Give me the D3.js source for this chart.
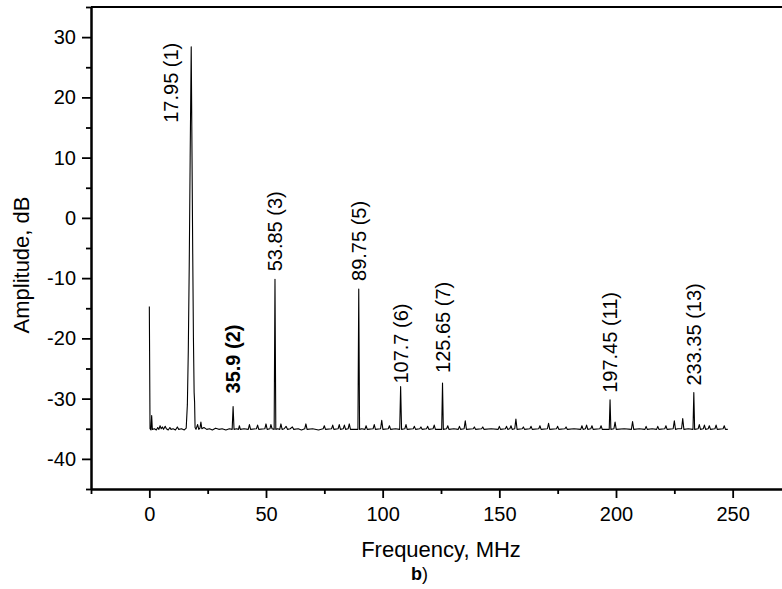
<!DOCTYPE html>
<html>
<head>
<meta charset="utf-8">
<script src="https://cdn.jsdelivr.net/npm/d3@7"></script>
<style>
  html, body { margin: 0; padding: 0; background: #fff; }
  svg { display: block; }
  text { font-family: "Liberation Sans", Arial, sans-serif; fill: #000; }
</style>
</head>
<body>
<svg id="chart" width="782" height="589"></svg>
<script>
// Labelled harmonics of the spectrum: frequency (MHz), harmonic order, level (dB)
const harmonicFreqs  = [17.95, 35.9, 53.85, 89.75, 107.7, 125.65, 197.45, 233.35];
const harmonicOrders = [1, 2, 3, 5, 6, 7, 11, 13];
const harmonicLevels = [28.4, -31.3, -10.2, -11.8, -28.0, -27.4, -30.2, -29.0];
const boldHarmonics  = [35.9];

// Rest of the measured trace: DC line, fundamental skirt, noise floor and spurs [MHz, dB]
const floorTrace = [
  [0.0,-14.7],[0.3,-35.0],[0.7,-35.2],[1.0,-32.8],[1.3,-35.1],[2.2,-35.0],[3.0,-35.2],[3.6,-34.8],
  [4.1,-35.1],[4.6,-34.5],[5.1,-35.0],[5.6,-34.7],[6.1,-35.1],[6.8,-34.6],[7.3,-35.0],[8.1,-35.2],
  [8.8,-34.8],[9.3,-35.1],[10.2,-35.0],[11.2,-35.2],[12.0,-34.7],[12.6,-35.1],[13.8,-35.0],[15.0,-35.2],
  [15.8,-34.9],[16.3,-31.0],[16.7,-22.0],[17.1,-8.0],[17.5,10.0],[18.3,10.0],[18.6,-6.0],[18.9,-20.0],
  [19.2,-29.0],[19.4,-30.6],[19.6,-34.8],[20.0,-35.1],[20.7,-34.3],[21.2,-35.1],[21.7,-34.9],[22.1,-33.9],
  [22.5,-35.0],[23.4,-34.8],[24.6,-35.1],[25.8,-35.0],[27.0,-35.2],[28.4,-34.9],[29.8,-35.1],[31.2,-35.0],
  [32.8,-35.2],[34.3,-35.0],[35.5,-35.1],[36.3,-35.1],[37.4,-35.0],[38.2,-35.1],[38.6,-34.5],[39.0,-35.1],
  [40.6,-35.0],[42.4,-35.1],[42.9,-34.3],[43.4,-35.1],[45.9,-35.0],[46.4,-34.4],[46.9,-35.1],[49.5,-35.0],
  [50.0,-34.2],[50.5,-35.1],[51.7,-35.0],[52.1,-34.3],[52.6,-35.0],[53.5,-35.1],[54.2,-35.1],[55.0,-35.0],
  [55.9,-35.1],[56.4,-34.2],[56.9,-35.1],[57.8,-35.0],[58.6,-34.6],[59.2,-35.1],[60.4,-35.0],[61.3,-34.7],
  [61.9,-35.1],[63.8,-35.0],[65.2,-35.2],[66.6,-35.0],[67.1,-34.2],[67.6,-35.1],[70.0,-35.0],[72.5,-35.2],
  [74.5,-35.0],[75.0,-34.5],[75.5,-35.1],[78.1,-35.0],[78.6,-34.4],[79.1,-35.1],[80.9,-35.0],[81.4,-34.3],
  [81.9,-35.1],[83.1,-35.0],[83.6,-34.4],[84.1,-35.1],[85.2,-35.0],[85.7,-34.2],[86.2,-35.1],[89.4,-35.1],
  [90.1,-35.1],[91.0,-35.0],[92.4,-35.1],[92.9,-34.5],[93.4,-35.1],[95.9,-35.0],[96.4,-34.3],[96.9,-35.1],
  [99.1,-35.0],[99.6,-33.6],[100.1,-35.1],[102.4,-35.0],[102.9,-34.5],[103.4,-35.1],[105.5,-35.0],[107.3,-35.1],
  [108.1,-35.1],[109.5,-35.0],[110.0,-34.3],[110.5,-35.1],[113.1,-35.0],[113.6,-34.6],[114.1,-35.1],[115.9,-35.0],
  [116.4,-34.7],[116.9,-35.1],[118.8,-35.0],[119.3,-34.6],[119.8,-35.1],[121.6,-35.0],[122.1,-34.4],[122.6,-35.1],
  [125.3,-35.1],[126.0,-35.1],[127.4,-35.0],[127.9,-34.5],[128.4,-35.1],[130.5,-35.0],[132.4,-35.1],[132.9,-34.6],
  [133.4,-35.1],[134.9,-35.0],[135.4,-33.7],[135.9,-35.1],[138.8,-35.0],[139.3,-34.7],[139.8,-35.1],[142.4,-35.0],
  [142.9,-34.7],[143.4,-35.1],[146.5,-35.0],[149.5,-35.1],[150.0,-34.6],[150.5,-35.1],[152.6,-35.0],[153.1,-34.6],
  [153.6,-35.1],[154.5,-35.0],[155.0,-34.5],[155.5,-35.1],[156.6,-35.0],[157.1,-33.4],[157.6,-35.1],[159.8,-35.0],
  [160.3,-34.7],[160.8,-35.1],[163.1,-35.0],[163.6,-34.6],[164.1,-35.1],[166.9,-35.0],[167.4,-34.5],[167.9,-35.1],
  [170.6,-35.0],[171.1,-34.1],[171.6,-35.1],[174.5,-35.0],[175.0,-34.6],[175.5,-35.1],[178.1,-35.0],[178.6,-34.7],
  [179.1,-35.1],[182.0,-35.0],[184.9,-35.1],[185.4,-34.5],[185.9,-35.1],[186.9,-35.0],[187.4,-34.4],[187.9,-35.1],
  [189.2,-35.0],[189.7,-34.5],[190.2,-35.1],[193.1,-35.0],[193.6,-34.5],[194.1,-35.1],[197.1,-35.1],[197.8,-35.1],
  [199.1,-35.0],[199.6,-33.9],[200.1,-35.1],[203.5,-35.0],[206.6,-35.1],[207.1,-33.8],[207.6,-35.1],[210.0,-35.0],
  [212.4,-35.1],[212.9,-34.6],[213.4,-35.1],[215.5,-35.0],[217.4,-35.1],[217.9,-34.6],[218.4,-35.1],[220.9,-35.0],
  [221.4,-34.5],[221.9,-35.1],[224.5,-35.0],[225.0,-33.7],[225.5,-35.1],[226.5,-35.0],[228.1,-35.0],[228.6,-33.3],
  [229.1,-35.1],[231.0,-35.0],[233.0,-35.1],[233.7,-35.1],[235.2,-35.0],[235.7,-34.3],[236.2,-35.1],[237.4,-35.0],
  [237.9,-34.4],[238.4,-35.1],[239.5,-35.0],[240.0,-34.5],[240.5,-35.1],[242.4,-35.0],[242.9,-34.4],[243.4,-35.1],
  [245.9,-35.0],[246.4,-34.5],[246.9,-35.1],[247.9,-35.1]
];

// Axis ticks
const xMajorTicks = [0, 50, 100, 150, 200, 250];
const xMinorTicks = [-25, 25, 75, 125, 175, 225, 275];
const yMajorTicks = [-40, -30, -20, -10, 0, 10, 20, 30];
const yMinorTicks = [-45, -35, -25, -15, -5, 5, 15, 25, 35];

// Label placement around each harmonic peak: [dx, dy] in px from the peak top
const labelShift = [[-20, 76], [0, -13], [0, -8], [0, -8], [0, -3], [0, -10], [0, -7], [0, -7]];

const svg = d3.select("#chart");
const W = +svg.attr("width"), H = +svg.attr("height");

svg.append("rect").attr("width", W).attr("height", H).attr("fill", "#fff");

const x = d3.scaleLinear().domain([-25, 275]).range([91, 791]);
const y = d3.scaleLinear().domain([-45, 35]).range([489, 7]);

// Spectrum trace: noise floor merged with the labelled harmonic peaks
const harmonicPoints = harmonicFreqs.map((f, i) => [f, harmonicLevels[i]]);
const trace = floorTrace.concat(harmonicPoints).sort((a, b) => a[0] - b[0]);

const line = d3.line().x(d => x(d[0])).y(d => y(d[1]));
svg.append("path")
  .datum(trace)
  .attr("d", line)
  .attr("fill", "none")
  .attr("stroke", "#000")
  .attr("stroke-width", 1.1)
  .attr("stroke-linejoin", "round");

// Axes
const fmt = d => String(d);
function styleAxis(g) {
  g.select(".domain").attr("stroke", "#000").attr("stroke-width", 2);
  g.selectAll(".tick line").attr("stroke", "#000").attr("stroke-width", 1.8);
  g.selectAll(".tick text").style("font-size", "20px").attr("fill", "#000")
    .style("font-family", '"Liberation Sans", Arial, sans-serif');
}

const gx = svg.append("g").attr("transform", `translate(0,${y(-45)})`)
  .call(d3.axisBottom(x).tickValues(xMajorTicks).tickFormat(fmt).tickSize(9).tickPadding(9).tickSizeOuter(0));
styleAxis(gx);
const gxm = svg.append("g").attr("transform", `translate(0,${y(-45)})`)
  .call(d3.axisBottom(x).tickValues(xMinorTicks).tickFormat("").tickSize(5).tickSizeOuter(0));
styleAxis(gxm);

const gy = svg.append("g").attr("transform", `translate(${x(-25)},0)`)
  .call(d3.axisLeft(y).tickValues(yMajorTicks).tickFormat(fmt).tickSize(9).tickPadding(6).tickSizeOuter(0));
styleAxis(gy);
const gym = svg.append("g").attr("transform", `translate(${x(-25)},0)`)
  .call(d3.axisLeft(y).tickValues(yMinorTicks).tickFormat("").tickSize(5).tickSizeOuter(0));
styleAxis(gym);

// Top frame line
svg.append("line")
  .attr("x1", x(-25)).attr("x2", x(275))
  .attr("y1", y(35)).attr("y2", y(35))
  .attr("stroke", "#000").attr("stroke-width", 2);

// Harmonic labels, rotated to read upward
harmonicFreqs.forEach((f, i) => {
  const px = x(f) + labelShift[i][0];
  const py = y(harmonicLevels[i]) + labelShift[i][1];
  const bold = boldHarmonics.includes(f);
  svg.append("text")
    .attr("transform", `translate(${px},${py}) rotate(-90)`)
    .attr("dy", "0.36em")
    .attr("text-anchor", "start")
    .style("font-size", "20px")
    .style("font-weight", bold ? "bold" : "normal")
    .text(`${f} (${harmonicOrders[i]})`);
});

// Axis titles
svg.append("text")
  .attr("transform", `translate(21,265) rotate(-90)`)
  .attr("dy", "0.36em")
  .attr("text-anchor", "middle")
  .style("font-size", "22px")
  .text("Amplitude, dB");

svg.append("text")
  .attr("x", x(125)).attr("y", 557)
  .attr("text-anchor", "middle")
  .style("font-size", "22px")
  .text("Frequency, MHz");

const cap = svg.append("text")
  .attr("x", 411).attr("y", 580)
  .style("font-size", "18px");
cap.append("tspan").style("font-weight", "bold").text("b");
cap.append("tspan").text(")");
</script>
</body>
</html>
